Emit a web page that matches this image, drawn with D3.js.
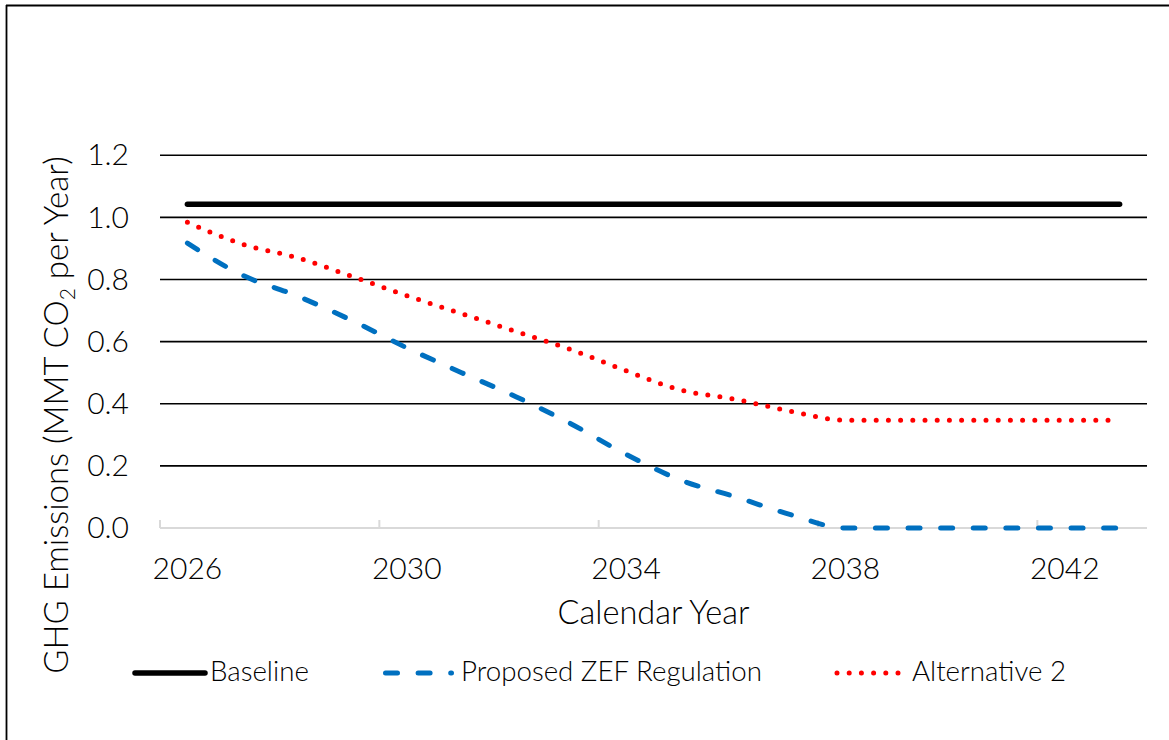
<!DOCTYPE html>
<html>
<head>
<meta charset="utf-8">
<script src="https://cdn.jsdelivr.net/npm/d3@7"></script>
<style>
  html, body { margin: 0; padding: 0; background: #fff; }
  svg { display: block; font-family: "Lato", "Noto Sans", sans-serif; font-weight: 300; }
</style>
</head>
<body>
<svg id="chart" width="1169" height="740"></svg>
<script>
// Calendar years on the category axis
const years = d3.range(2026, 2044);
const yearLabels = ["2026", "2030", "2034", "2038", "2042"];

// GHG emissions, MMT CO2 per year
const baseline = [1.042, 1.042, 1.042, 1.042, 1.042, 1.042, 1.042, 1.042, 1.042,
                  1.042, 1.042, 1.042, 1.042, 1.042, 1.042, 1.042, 1.042, 1.042];
const proposedZEF = [0.917, 0.814, 0.747, 0.668, 0.580, 0.500, 0.422, 0.335, 0.237,
                     0.154, 0.100, 0.043, 0.000, 0.000, 0.000, 0.000, 0.000, 0.000];
const alternative2 = [0.984, 0.914, 0.870, 0.810, 0.748, 0.690, 0.632, 0.574, 0.506,
                      0.444, 0.414, 0.376, 0.347, 0.347, 0.347, 0.347, 0.347, 0.347];

const yTicks = [0, 0.2, 0.4, 0.6, 0.8, 1.0, 1.2];

const seriesList = [
  { name: "Baseline", values: baseline, color: "#000000", width: 5.5, dash: null },
  { name: "Proposed ZEF Regulation", values: proposedZEF, color: "#0070C0", width: 5, dash: "12 20.6" },
  { name: "Alternative 2", values: alternative2, color: "#FF0000", width: 5, dash: "0 12.2" }
];

const svg = d3.select("#chart");

// outer frame (top and left edges)
svg.append("line").attr("x1", 6).attr("x2", 1169).attr("y1", 5.5).attr("y2", 5.5)
  .attr("stroke", "#000").attr("stroke-width", 1.8);
svg.append("line").attr("x1", 6.5).attr("x2", 6.5).attr("y1", 5).attr("y2", 740)
  .attr("stroke", "#000").attr("stroke-width", 1.8);

const x = d3.scaleBand().domain(years).range([160, 1147]);
const y = d3.scaleLinear().domain([0, 1.2]).range([528, 155.2]);
const cx = d => x(d) + x.bandwidth() / 2;

// horizontal gridlines
svg.append("g")
  .selectAll("line")
  .data(yTicks.filter(t => t > 0))
  .join("line")
  .attr("x1", 160).attr("x2", 1147)
  .attr("y1", d => y(d)).attr("y2", d => y(d))
  .attr("stroke", "#000").attr("stroke-width", 1.6);

// y tick labels
svg.append("g")
  .selectAll("text")
  .data(yTicks)
  .join("text")
  .attr("x", 129)
  .attr("y", d => y(d))
  .attr("dy", "0.34em")
  .attr("text-anchor", "end")
  .attr("font-size", 30)
  .attr("fill", "#000")
  .text(d => d3.format(".1f")(d));

// category axis: baseline line, tick marks between categories every 4 years
const xAxis = d3.axisBottom(x)
  .tickValues(years.filter((d, i) => i % 4 === 0))
  .tickSize(0)
  .tickFormat("");
const axisG = svg.append("g").attr("transform", `translate(0,${y(0)})`).call(xAxis);
axisG.select(".domain").attr("stroke", "#D9D9D9").attr("stroke-width", 2).attr("d", "M160,0H1147");
axisG.selectAll(".tick").each(function (d) {
  d3.select(this).attr("transform", `translate(${x(d)},0)`);
  d3.select(this).select("line").attr("y1", 0).attr("y2", -8)
    .attr("stroke", "#D9D9D9").attr("stroke-width", 2);
});

// x tick labels
svg.append("g")
  .selectAll("text")
  .data(yearLabels)
  .join("text")
  .attr("x", d => cx(+d))
  .attr("y", 579)
  .attr("text-anchor", "middle")
  .attr("font-size", 30)
  .attr("fill", "#000")
  .text(d => d);

// axis titles
svg.append("text")
  .attr("x", 653.5).attr("y", 624)
  .attr("text-anchor", "middle")
  .attr("font-size", 32.5)
  .attr("fill", "#000")
  .text("Calendar Year");

const yTitle = svg.append("text")
  .attr("transform", "translate(68,415) rotate(-90)")
  .attr("text-anchor", "middle")
  .attr("font-size", 33)
  .attr("fill", "#000");
yTitle.append("tspan").text("GHG Emissions (MMT CO");
yTitle.append("tspan").attr("font-size", 21).attr("dy", 7).text("2");
yTitle.append("tspan").attr("dy", -7).text(" per Year)");

// series lines
const line = d3.line()
  .x((d, i) => cx(years[i]))
  .y(d => y(d))
  .curve(d3.curveMonotoneX);

svg.append("g")
  .selectAll("path")
  .data(seriesList)
  .join("path")
  .attr("d", s => line(s.values))
  .attr("fill", "none")
  .attr("stroke", s => s.color)
  .attr("stroke-width", s => s.width)
  .attr("stroke-linecap", "round")
  .attr("stroke-linejoin", "round")
  .attr("stroke-dasharray", s => s.dash);

// legend
const legendItems = [
  { s: seriesList[0], x0: 135, x1: 205, tx: 210 },
  { s: seriesList[1], x0: 385.5, x1: 451.5, tx: 461 },
  { s: seriesList[2], x0: 837, x1: 899, tx: 912 }
];
const legendY = 673;
const lg = svg.append("g").selectAll("g").data(legendItems).join("g");
lg.append("line")
  .attr("x1", d => d.x0).attr("x2", d => d.x1)
  .attr("y1", legendY).attr("y2", legendY)
  .attr("stroke", d => d.s.color)
  .attr("stroke-width", d => d.s.width)
  .attr("stroke-linecap", "round")
  .attr("stroke-dasharray", d => d.s.dash);
lg.append("text")
  .attr("x", d => d.tx).attr("y", 681)
  .attr("font-size", 27.7)
  .attr("fill", "#000")
  .text(d => d.s.name);
</script>
</body>
</html>
